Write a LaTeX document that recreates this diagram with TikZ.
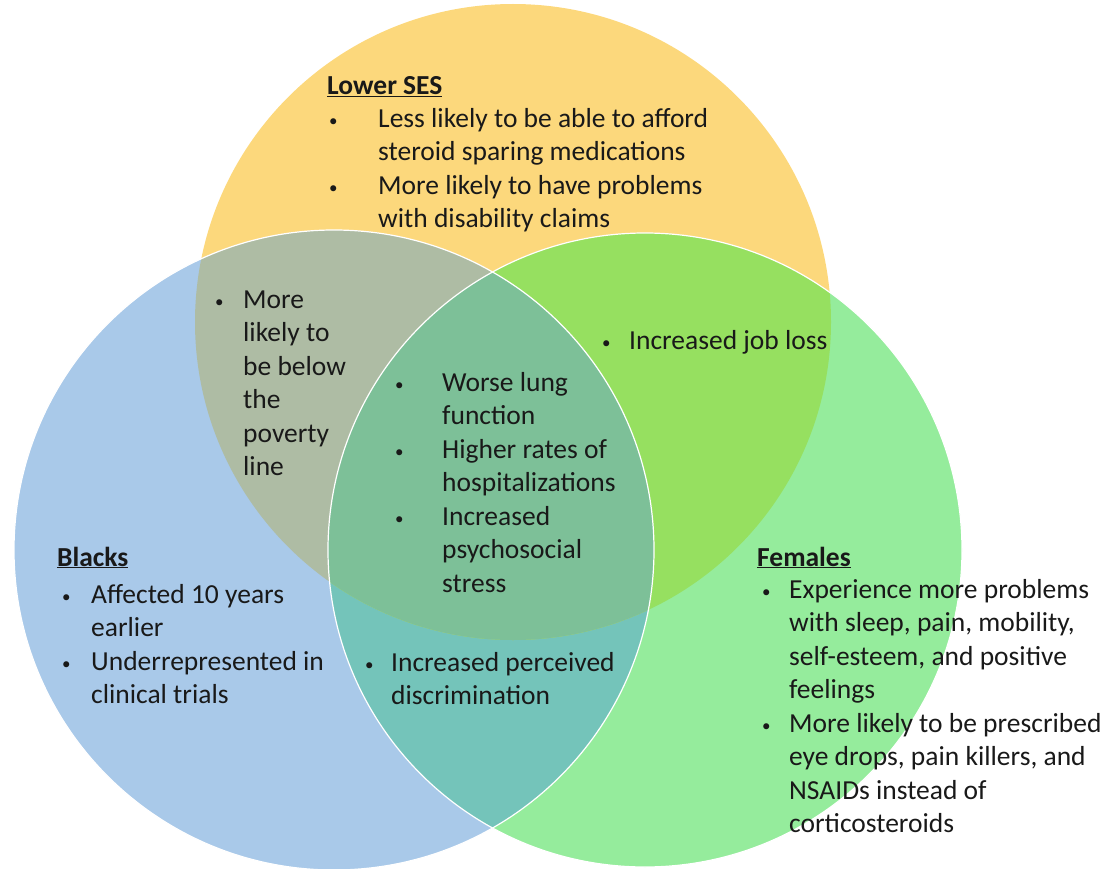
\documentclass[tikz,border=0pt]{standalone}
\usepackage{fontspec}
\setmainfont{Carlito}
\usetikzlibrary{positioning}

\definecolor{sesyellow}{RGB}{252,216,124}
\definecolor{blackblue}{RGB}{169,201,233}
\definecolor{femgreen}{RGB}{149,236,156}
\definecolor{sesblack}{RGB}{174,188,164}
\definecolor{sesfem}{RGB}{150,224,96}
\definecolor{blackfem}{RGB}{116,196,186}
\definecolor{allthree}{RGB}{125,192,152}

\newcommand{\vb}{{\fontsize{17}{17}\selectfont\raisebox{0.8pt}{\textbullet}}}
\newcommand{\blist}[2]{\begin{tabular}[t]{@{}p{#1}@{}l@{}}#2\end{tabular}}

\tikzset{
  venntxt/.style={anchor=base west, inner sep=0pt, text=black!90, font=\fontsize{27.5}{33.5}\selectfont},
  venntitle/.style={venntxt, font=\fontsize{27.5}{33.5}\selectfont\bfseries},
  rim/.style={draw=white, line width=1.2pt}
}

\begin{document}
\begin{tikzpicture}[x=1pt,y=-1pt]
\useasboundingbox (0,0) rectangle (1111,869);
\fill[sesyellow] (513,322) circle (318pt);
\fill[blackblue] (334,550) circle (320pt);
\fill[femgreen] (645,550) circle (317pt);
\begin{scope}
\clip (334,550) circle (320pt);
\fill[blackfem] (645,550) circle (317pt);
\end{scope}
\begin{scope}
\clip (513,322) circle (318pt);
\fill[sesblack] (334,550) circle (320pt);
\fill[sesfem] (645,550) circle (317pt);
\clip (334,550) circle (320pt);
\fill[allthree] (645,550) circle (317pt);
\end{scope}
\draw[rim] (334,550) circle (320pt);
\draw[rim] (645,550) circle (317pt);

\node[venntitle] (ses) at (327,95) {\underline{Lower SES}};
\node[venntxt] (sesitems) at (329,127.5) {\blist{49pt}{\vb & Less likely to be able to afford\\ & steroid sparing medications\\ \vb & More likely to have problems\\ & with disability claims}};
\node[venntxt] (sesblk) at (215,308) {\blist{28pt}{\vb & More\\ & likely to\\ & be below\\ & the\\ & poverty\\ & line}};
\node[venntxt] (mid) at (395,391) {\blist{47pt}{\vb & Worse lung\\ & function\\ \vb & Higher rates of\\ & hospitalizations\\ \vb & Increased\\ & psychosocial\\ & stress}};
\node[venntxt] (sesfemtxt) at (602,349) {\blist{27pt}{\vb & Increased job loss}};
\node[venntitle] (blk) at (57,566) {\underline{Blacks}};
\node[venntxt] (blkitems) at (62,603) {\blist{29pt}{\vb & Affected 10 years\\ & earlier\\ \vb & Underrepresented in\\ & clinical trials}};
\node[venntxt] (blkfem) at (365,671) {\blist{26pt}{\vb & Increased perceived\\ & discrimination}};
\node[venntitle] (fem) at (757,566) {\underline{Females}};
\node[venntxt] (femitems) at (762,598) {\blist{27pt}{\vb & Experience more problems\\ & with sleep, pain, mobility,\\ & self-esteem, and positive\\ & feelings\\ \vb & More likely to be prescribed\\ & eye drops, pain killers, and\\ & NSAIDs instead of\\ & corticosteroids}};
\end{tikzpicture}
\end{document}
